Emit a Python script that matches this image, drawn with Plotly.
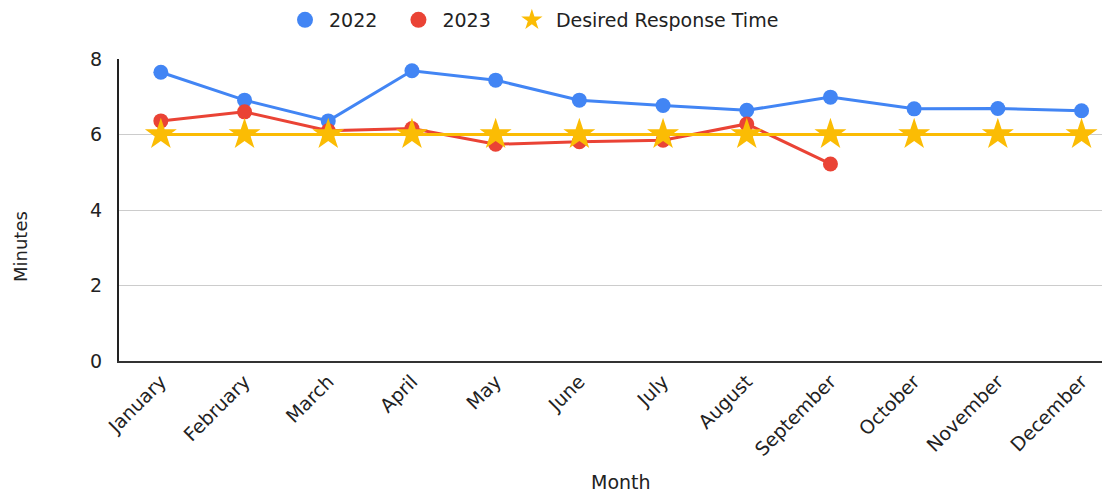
import plotly.graph_objects as go

months = ["January", "February", "March", "April", "May", "June", "July",
          "August", "September", "October", "November", "December"]
y2022 = [7.65, 6.91, 6.36, 7.69, 7.44, 6.91, 6.77, 6.64, 6.99, 6.68, 6.69, 6.63]
y2023 = [6.36, 6.60, 6.10, 6.16, 5.74, 5.81, 5.85, 6.28, 5.22]
desired = [6, 6, 6, 6, 6, 6, 6, 6, 6, 6, 6, 6]
legend_names = ["2022", "2023", "Desired Response Time"]

BLUE, RED, YELLOW = "#4285F4", "#EA4335", "#FBBC04"
FONT = "DejaVu Sans, Liberation Sans, Arial, sans-serif"
TXT = "#222222"

# the page body adds an 8px offset; layout pixel targets below are in figure coordinates
OFF = 8
W, H = 1110, 491
L, R, T, B = 119 - OFF, 0, 59 - OFF, H - (361 - OFF)
pw, ph = W - L - R, H - T - B


def px_x(x):
    return (x - OFF - L) / pw


def px_y(y):
    return (H - B - (y - OFF)) / ph


fig = go.Figure()
fig.add_trace(go.Scatter(x=months, y=y2022, name=legend_names[0], mode="lines+markers",
                         line=dict(color=BLUE, width=3), showlegend=False,
                         marker=dict(color=BLUE, size=15, symbol="circle")))
fig.add_trace(go.Scatter(x=months[:len(y2023)], y=y2023, name=legend_names[1], mode="lines+markers",
                         line=dict(color=RED, width=3), showlegend=False,
                         marker=dict(color=RED, size=15, symbol="circle")))
fig.add_trace(go.Scatter(x=months, y=desired, name=legend_names[2], mode="lines+markers",
                         line=dict(color=YELLOW, width=3), showlegend=False,
                         marker=dict(color=YELLOW, size=24, symbol="star")))

# legend entries (marker only, as in the reference); trailing no-break spaces widen item gaps
PAD = "\u00a0\u00a0"
for name, col, sym, sz in [(legend_names[0] + PAD, BLUE, "circle", 20),
                           (legend_names[1] + PAD, RED, "circle", 20),
                           (legend_names[2], YELLOW, "star", 16)]:
    fig.add_trace(go.Scatter(x=[None], y=[None], name=name, mode="markers",
                             marker=dict(color=col, size=sz, symbol=sym)))

cat_px = 83.7
fig.update_layout(
    width=W, height=H,
    margin=dict(l=L, r=R, t=T, b=B, autoexpand=False),
    paper_bgcolor="white", plot_bgcolor="white",
    font=dict(family=FONT, size=19, color=TXT),
    showlegend=True,
    legend=dict(orientation="h", x=px_x(281), xanchor="left",
                y=1 - (20 - OFF) / H, yanchor="middle", yref="container",
                font=dict(size=19, color=TXT), itemsizing="trace",
                itemwidth=38),
    xaxis=dict(
        type="category", categoryorder="array", categoryarray=months,
        range=[-0.5, pw / cat_px - 0.5], tickangle=-45, showgrid=False, automargin=False,
        showline=True, linecolor="#333333", linewidth=2,
        ticks="", tickfont=dict(size=19, color=TXT),
    ),
    yaxis=dict(
        range=[0, 8], dtick=2, showgrid=True, gridcolor="#cccccc", gridwidth=1,
        showline=True, linecolor=TXT, linewidth=2, zeroline=False, automargin=False,
        ticks="", ticklabelstandoff=11, tickfont=dict(size=19, color=TXT),
    ),
    annotations=[
        dict(text="Minutes", textangle=-90, x=px_x(20), xref="paper", y=px_y(247), yref="paper",
             xanchor="center", yanchor="middle", showarrow=False,
             font=dict(size=18, color=TXT)),
        dict(text="Month", x=px_x(621), xref="paper", y=px_y(482), yref="paper",
             xanchor="center", yanchor="middle", showarrow=False,
             font=dict(size=19, color=TXT)),
    ],
)

fig.write_html("out.html")
